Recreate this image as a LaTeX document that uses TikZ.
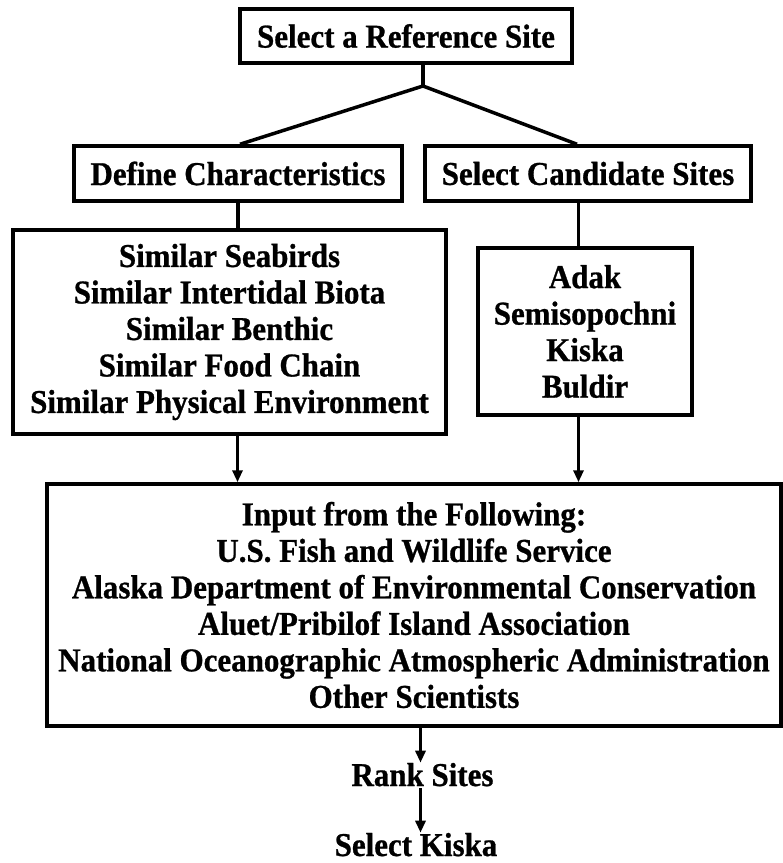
\documentclass[tikz,border=0pt]{standalone}
\usepackage{fontspec}
\setmainfont{Liberation Serif}[FakeStretch=0.93,BoldFeatures={FakeBold=0.8}]
\usetikzlibrary{arrows.meta}
\begin{document}
\begin{tikzpicture}[x=1pt,y=-1pt,
  every node/.style={font=\fontsize{33.3}{36.5}\selectfont\bfseries},
  box/.style={draw, line width=3.5pt, align=center, inner sep=0pt},
  conn/.style={line width=3.5pt},
  arr/.style={line width=3.5pt, -{Triangle[length=12pt,width=10pt]}}]
\useasboundingbox (0,0) rectangle (783,863);
% boxes
\node[box, minimum width=332pt, minimum height=54pt] (ref) at (406,36) {Select a Reference Site};
\node[box, minimum width=328pt, minimum height=55pt] (def) at (238,173.5) {Define Characteristics};
\node[box, minimum width=326pt, minimum height=55pt] (sel) at (588,173.5) {Select Candidate Sites};
\node[box, minimum width=433pt, minimum height=204pt] (sim) at (229.5,332)
  {Similar Seabirds\\Similar Intertidal Biota\\Similar Benthic\\Similar Food Chain\\Similar Physical Environment};
\node[box, minimum width=214pt, minimum height=167pt] (adak) at (585,331.5)
  {Adak\\Semisopochni\\Kiska\\Buldir};
\node[box, minimum width=734pt, minimum height=242pt] (inp) at (414,605)
  {Input from the Following:\\U.S. Fish and Wildlife Service\\Alaska Department of Environmental Conservation\\Aluet/Pribilof Island Association\\National Oceanographic Atmospheric Administration\\Other Scientists};
\node[anchor=base, inner sep=0pt] (rank) at (422.5,786) {Rank Sites};
\node[anchor=base, inner sep=0pt] (kiska) at (416,856) {Select Kiska};
% helper coordinates
\coordinate (j) at (423,86);
\coordinate (xr) at (578.5,0);
\coordinate (xa) at (420.5,0);
% connectors
\draw[conn] (ref.south -| j) -- (j);
\draw[conn] (j) -- ([xshift=2pt]def.north);
\draw[conn] (j) -- ([xshift=-11pt]sel.north);
\draw[conn] (def.south) -- (sim.north -| def.south);
\draw[conn] (sel.south -| xr) -- (adak.north -| xr);
\draw[arr] ([xshift=-0.5pt]sim.south -| def.south) -- ([xshift=-0.5pt]inp.north -| def.south);
\draw[arr] (adak.south -| xr) -- (inp.north -| xr);
\draw[arr] (inp.south -| xa) -- (rank.north -| xa);
\draw[arr] ([yshift=-2pt]rank.base -| xa) -- (kiska.north -| xa);
\end{tikzpicture}
\end{document}
